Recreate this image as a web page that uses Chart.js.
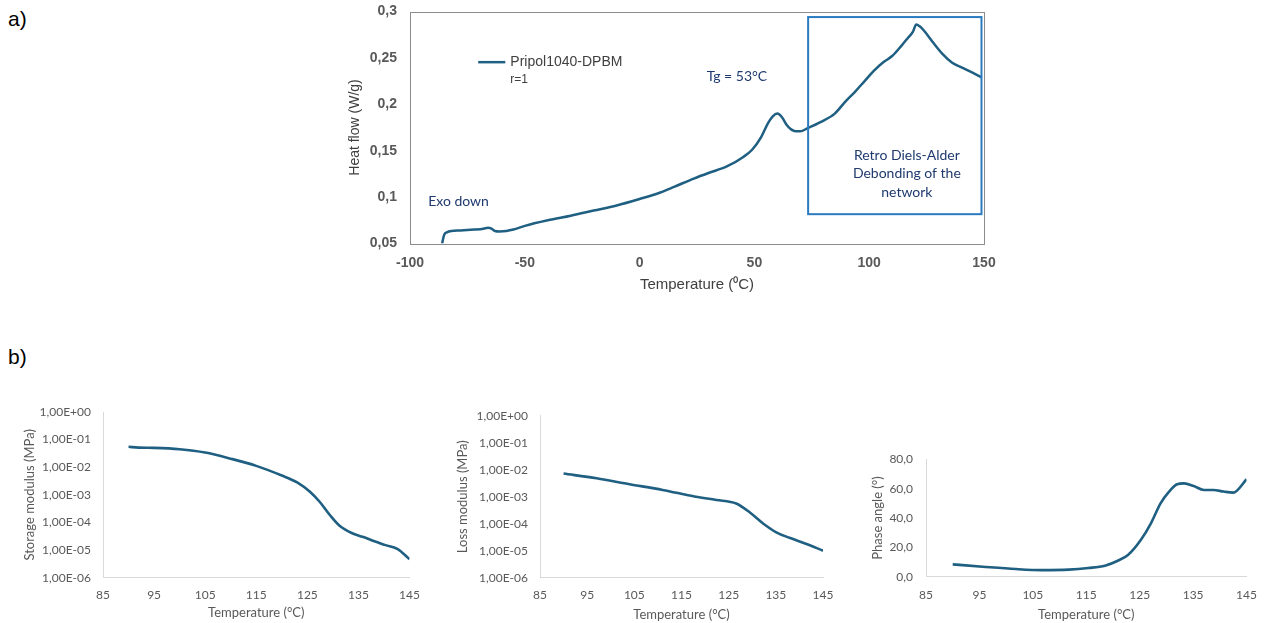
<!DOCTYPE html>
<html>
<head>
<meta charset="utf-8">
<script src="https://cdn.jsdelivr.net/npm/chart.js@4/dist/chart.umd.min.js"></script>
<style>
  html, body { margin: 0; padding: 0; background: #ffffff; }
  body { width: 1268px; height: 623px; position: relative; overflow: hidden; }
  canvas { position: absolute; }
  .panel-tag { position: absolute; font-family: "Liberation Sans", Arial, sans-serif; font-size: 21px; color: #000; }
</style>
</head>
<body>
<div class="panel-tag" style="left:8px; top:7px;">a)</div>
<div class="panel-tag" style="left:8px; top:345px;">b)</div>
<canvas id="dsc" width="680" height="300" style="left:330px; top:0px;"></canvas>
<canvas id="storage" width="430" height="228" style="left:0px; top:395px;"></canvas>
<canvas id="loss" width="420" height="228" style="left:430px; top:395px;"></canvas>
<canvas id="phase" width="418" height="183" style="left:850px; top:440px;"></canvas>
<script>
// DSC heating curve, Pripol1040-DPBM (r=1)
const dscTemp = [-86, -85.5, -85, -84, -82, -78, -72, -68, -66, -64.5, -63, -61, -58, -55, -50, -40, -30, -20, -10, 0, 9, 15, 23.6, 30, 38, 45, 49, 53, 56, 58, 60, 62, 64, 66, 68, 70, 73, 79, 85, 90, 94, 98, 102, 106, 110, 114, 117, 119, 120.5, 122, 124, 128, 132, 136, 140, 145, 149];
const dscHeatFlow = [0.050, 0.056, 0.060, 0.062, 0.0635, 0.064, 0.065, 0.066, 0.067, 0.066, 0.0635, 0.063, 0.0635, 0.065, 0.069, 0.075, 0.080, 0.0855, 0.091, 0.098, 0.105, 0.111, 0.120, 0.126, 0.133, 0.143, 0.151, 0.165, 0.180, 0.187, 0.190, 0.186, 0.178, 0.173, 0.171, 0.171, 0.174, 0.181, 0.190, 0.204, 0.214, 0.225, 0.236, 0.245, 0.252, 0.263, 0.272, 0.278, 0.286, 0.284, 0.279, 0.266, 0.254, 0.245, 0.240, 0.234, 0.229];

// DMA temperature sweeps
const storageTemp = [90, 92, 95, 100, 105, 110, 115, 120, 123, 125.5, 127.4, 129.4, 131.3, 133.9, 135.8, 137.7, 140.3, 142.6, 145];
const storageModulus = [0.055, 0.0513, 0.0501, 0.0447, 0.0339, 0.0204, 0.0112, 0.0050, 0.00282, 0.00129, 0.000562, 0.000186, 7.6e-5, 3.98e-5, 3.02e-5, 2.24e-5, 1.51e-5, 1.10e-5, 4.7e-6];

const lossTemp = [90, 97, 104, 111, 118, 122.4, 126.6, 129.5, 132.3, 135.1, 137.9, 141.5, 145];
const lossModulus = [7.2e-3, 4.8e-3, 2.9e-3, 1.78e-3, 1.0e-3, 7.6e-4, 5.6e-4, 2.6e-4, 1.02e-4, 4.8e-5, 3.0e-5, 1.78e-5, 1.0e-5];

const phaseTemp = [90, 95.6, 101.8, 106.7, 111.7, 115.4, 118.5, 120.9, 122.8, 125.2, 127.1, 128.9, 130.5, 132, 133.3, 135.1, 137, 138.8, 140.7, 142.5, 145];
const phaseAngle = [8.4, 6.8, 5.2, 4.5, 4.8, 5.9, 7.5, 10.9, 14.8, 25, 36.4, 50, 58, 63, 63.6, 61.8, 59.1, 59.1, 58, 57.3, 66.4];

// Tick positions
const dscTempTicks = [-100, -50, 0, 50, 100, 150];
const heatFlowTicks = [0.05, 0.1, 0.15, 0.2, 0.25, 0.3];
const dmaTempTicks = [85, 95, 105, 115, 125, 135, 145];
const modulusTicks = [1e-6, 1e-5, 1e-4, 1e-3, 1e-2, 1e-1, 1];
const phaseTicks = [0, 20, 40, 60, 80];

const lineColor = '#1f5f82';
const noteColor = '#1f3a6e';
const calibriLike = 'Lato, "Open Sans", sans-serif';
const arialLike = '"Liberation Sans", Arial, sans-serif';

const toPoints = (xs, ys) => xs.map((v, i) => ({ x: v, y: ys[i] }));
const fixTicks = values => scale => { scale.ticks = values.map(v => ({ value: v })); };
const commaNum = (v, d) => (d === undefined ? String(Math.round(v * 100) / 100) : v.toFixed(d)).replace('.', ',');
const sciLabel = v => {
  const e = Math.round(Math.log10(v));
  const sign = e < 0 ? '-' : '+';
  return '1,00E' + sign + String(Math.abs(e)).padStart(2, '0');
};
// Hidden tick marks give the gap between a value axis and its labels
const hiddenTicks = len => ({ display: false, drawTicks: true, tickLength: len });

const baseOptions = {
  responsive: false,
  animation: false,
  devicePixelRatio: 1,
  events: [],
  plugins: { legend: { display: false }, tooltip: { enabled: false } },
};

const lineDataset = (data, width) => ({
  data,
  borderColor: lineColor,
  borderWidth: width,
  pointRadius: 0,
  cubicInterpolationMode: 'monotone',
  fill: false,
});

// Frame, legend and notes of the DSC panel
const dscNotes = {
  id: 'dscNotes',
  afterDatasetsDraw(chart) {
    const { ctx, chartArea: a, scales: { x, y } } = chart;
    ctx.save();
    ctx.strokeStyle = '#8c8c8c';
    ctx.lineWidth = 1;
    ctx.strokeRect(Math.round(a.left) + 0.5, Math.round(a.top) + 0.5, Math.round(a.right - a.left), Math.round(a.bottom - a.top));

    // region of the retro Diels-Alder reaction
    const bx1 = x.getPixelForValue(73.4), bx2 = x.getPixelForValue(148.9);
    const by1 = y.getPixelForValue(0.294), by2 = y.getPixelForValue(0.0816);
    ctx.strokeStyle = '#2a7ac0';
    ctx.lineWidth = 2;
    ctx.strokeRect(bx1, by1, bx2 - bx1, by2 - by1);

    ctx.fillStyle = noteColor;
    ctx.font = '14px ' + calibriLike;
    ctx.textBaseline = 'middle';
    ctx.textAlign = 'center';
    const cx = x.getPixelForValue(116.4);
    ctx.fillText('Retro Diels-Alder', cx, y.getPixelForValue(0.1447));
    ctx.fillText('Debonding of the', cx, y.getPixelForValue(0.1254));
    ctx.fillText('network', cx, y.getPixelForValue(0.1045));
    ctx.fillText('Tg = 53°C', x.getPixelForValue(42.4), y.getPixelForValue(0.2295));
    ctx.textAlign = 'left';
    ctx.fillText('Exo down', x.getPixelForValue(-92.1), y.getPixelForValue(0.0956));

    // series key
    const ly = y.getPixelForValue(0.2454);
    ctx.strokeStyle = lineColor;
    ctx.lineWidth = 2.5;
    ctx.beginPath();
    ctx.moveTo(x.getPixelForValue(-70.3), ly);
    ctx.lineTo(x.getPixelForValue(-58.5), ly);
    ctx.stroke();
    ctx.fillStyle = '#404040';
    ctx.font = '14px ' + arialLike;
    ctx.fillText('Pripol1040-DPBM', x.getPixelForValue(-56.3), ly);
    ctx.font = '12px ' + arialLike;
    ctx.fillText('r=1', x.getPixelForValue(-56.3), y.getPixelForValue(0.226));
    ctx.restore();
  }
};

new Chart(document.getElementById('dsc'), {
  type: 'line',
  data: { datasets: [lineDataset(toPoints(dscTemp, dscHeatFlow), 2.5)] },
  options: {
    ...baseOptions,
    layout: { padding: { top: 11.5, right: 26, left: 0, bottom: 0 } },
    scales: {
      x: {
        type: 'linear', min: -100, max: 150,
        afterBuildTicks: fixTicks(dscTempTicks),
        afterFit: s => { s.height = 56.5; },
        grid: { display: false, drawTicks: false },
        border: { display: false },
        ticks: { padding: 11, color: '#595959', font: { family: arialLike, size: 14, weight: 'bold' }, callback: v => String(v) },
        title: { display: true, text: 'Temperature (⁰C)', color: '#404040', padding: { top: 0, bottom: 6 }, font: { family: arialLike, size: 15 } }
      },
      y: {
        type: 'linear', min: 0.05, max: 0.3,
        afterBuildTicks: fixTicks(heatFlowTicks),
        afterFit: s => { s.width = 80; },
        grid: hiddenTicks(13),
        border: { display: false },
        ticks: { padding: 0, color: '#595959', font: { family: arialLike, size: 14, weight: 'bold' }, callback: v => commaNum(v) },
        title: { display: true, text: 'Heat flow (W/g)', color: '#404040', padding: { top: 17, bottom: 0 }, font: { family: arialLike, size: 14 } }
      }
    }
  },
  plugins: [dscNotes]
});

// Shared layout of the three DMA panels
function dmaChart(id, temps, values, cfg) {
  return new Chart(document.getElementById(id), {
    type: 'line',
    data: { datasets: [lineDataset(toPoints(temps, values), 2.6)] },
    options: {
      ...baseOptions,
      layout: { padding: { top: cfg.padTop, right: cfg.padRight, left: 0, bottom: 0 } },
      scales: {
        x: {
          type: 'linear', min: 85, max: 145,
          afterBuildTicks: fixTicks(dmaTempTicks),
          afterFit: s => { s.height = cfg.xHeight; },
          grid: { display: false, drawTicks: false },
          border: { display: true, color: '#d9d9d9', width: 1 },
          ticks: { padding: cfg.xTickPad, color: '#595959', font: { family: calibriLike, size: 12 }, callback: v => String(v) },
          title: { display: true, text: 'Temperature (°C)', color: '#595959', padding: { top: 0, bottom: cfg.xTitlePad }, font: { family: calibriLike, size: 13 } }
        },
        y: Object.assign({
          afterBuildTicks: fixTicks(cfg.yTicks),
          afterFit: s => { s.width = cfg.yWidth; },
          grid: hiddenTicks(cfg.yTickPad),
          border: { display: true, color: '#d9d9d9', width: 1 },
          ticks: { padding: 0, color: '#595959', font: { family: calibriLike, size: 12 }, callback: cfg.yLabel },
          title: { display: true, text: cfg.yTitle, color: '#595959', padding: { top: cfg.yTitlePad, bottom: 0 }, font: { family: calibriLike, size: 13 } }
        }, cfg.yScale)
      }
    }
  });
}

dmaChart('storage', storageTemp, storageModulus, {
  padTop: 17, padRight: 16, xHeight: 45.3, xTickPad: 10, xTitlePad: 2,
  yWidth: 103, yTickPad: 12, yTitlePad: 22,
  yTicks: modulusTicks, yLabel: sciLabel, yTitle: 'Storage modulus (MPa)',
  yScale: { type: 'logarithmic', min: 1e-6, max: 1 }
});

dmaChart('loss', lossTemp, lossModulus, {
  padTop: 20.7, padRight: 27, xHeight: 45.3, xTickPad: 10, xTitlePad: 0,
  yWidth: 110, yTickPad: 12, yTitlePad: 25,
  yTicks: modulusTicks, yLabel: sciLabel, yTitle: 'Loss modulus (MPa)',
  yScale: { type: 'logarithmic', min: 1e-6, max: 1 }
});

dmaChart('phase', phaseTemp, phaseAngle, {
  padTop: 19.3, padRight: 18, xHeight: 46.3, xTickPad: 11, xTitlePad: 0,
  yWidth: 76, yTickPad: 13, yTitlePad: 20,
  yTicks: phaseTicks, yLabel: v => commaNum(v, 1), yTitle: 'Phase angle (°)',
  yScale: { type: 'linear', min: 0, max: 80 }
});
</script>
</body>
</html>
